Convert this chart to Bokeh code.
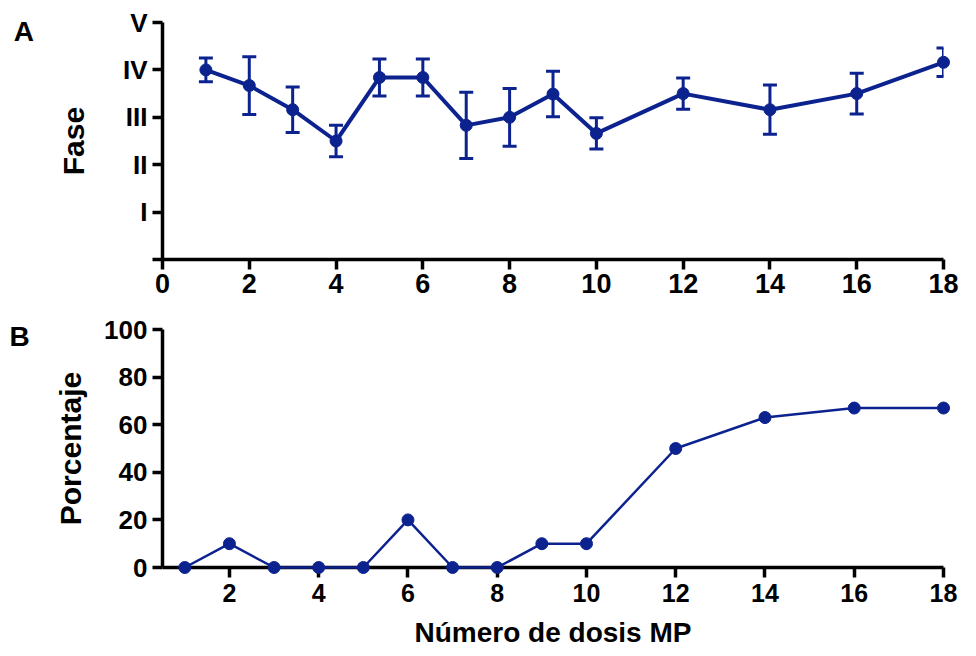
from bokeh.plotting import figure
from bokeh.models import ColumnDataSource, Whisker, TeeHead, FixedTicker, Range1d
from bokeh.core.properties import value
from bokeh.layouts import column
from bokeh.embed import file_html
from bokeh.resources import INLINE

# ---- data ----
dosis_a = [1, 2, 3, 4, 5, 6, 7, 8, 9, 10, 12, 14, 16, 18]
fase_media = [4.0, 3.67, 3.16, 2.5, 3.84, 3.84, 2.83, 3.0, 3.49, 2.66, 3.5, 3.16, 3.5, 4.16]
fase_error = [0.25, 0.61, 0.48, 0.33, 0.39, 0.39, 0.7, 0.61, 0.48, 0.33, 0.33, 0.52, 0.43, 0.3]
fase_ticks = [0, 1, 2, 3, 4, 5]
fase_tick_labels = ["", "I", "II", "III", "IV", "V"]
x_ticks_a = [0, 2, 4, 6, 8, 10, 12, 14, 16, 18]

dosis_b = [1, 2, 3, 4, 5, 6, 7, 8, 9, 10, 12, 14, 16, 18]
porcentaje = [0, 10, 0, 0, 0, 20, 0, 0, 10, 10, 50, 63, 67, 67]
y_ticks_b = [0, 20, 40, 60, 80, 100]
x_ticks_b = [2, 4, 6, 8, 10, 12, 14, 16, 18]

panel_letters = ["A", "B"]

BLUE = "#0c228f"
FONT = "Liberation Sans"


def style(p):
    p.outline_line_color = None
    p.grid.grid_line_color = None
    p.background_fill_color = "white"
    p.border_fill_color = "white"
    for ax in p.axis:
        ax.axis_line_width = 3.5
        ax.axis_line_color = "black"
        ax.major_tick_line_width = 3.5
        ax.major_tick_line_color = "black"
        ax.major_tick_out = 10
        ax.major_tick_in = 0
        ax.minor_tick_line_color = None
        ax.major_label_text_font = FONT
        ax.major_label_text_font_style = "bold"
        ax.major_label_text_color = "black"
        ax.axis_label_text_font = FONT
        ax.axis_label_text_font_style = "bold"
        ax.axis_label_text_color = "black"


# ---- Panel A ----
pA = figure(width=976, height=307, title=None,
            x_range=Range1d(0, 18), y_range=Range1d(0, 5),
            output_backend="svg", toolbar_location=None,
            min_border_left=162, min_border_right=33,
            min_border_top=22, min_border_bottom=48)
style(pA)
pA.xaxis.ticker = FixedTicker(ticks=x_ticks_a)
pA.xaxis.major_label_text_font_size = "27px"
pA.xaxis.major_label_standoff = 4
pA.yaxis.ticker = FixedTicker(ticks=fase_ticks)
pA.yaxis.major_label_overrides = {t: l for t, l in zip(fase_ticks, fase_tick_labels)}
pA.yaxis.major_label_text_font_size = "26px"
pA.yaxis.major_label_standoff = 5
pA.yaxis.axis_label = "Fase"
pA.yaxis.axis_label_text_font_size = "30px"
pA.yaxis.axis_label_standoff = 30

srcA = ColumnDataSource(dict(
    x=dosis_a, y=fase_media,
    upper=[m + e for m, e in zip(fase_media, fase_error)],
    lower=[m - e for m, e in zip(fase_media, fase_error)],
))
pA.add_layout(Whisker(source=srcA, base="x", upper="upper", lower="lower",
                      line_color=BLUE, line_width=3,
                      upper_head=TeeHead(size=14, line_color=BLUE, line_width=3),
                      lower_head=TeeHead(size=14, line_color=BLUE, line_width=3)))
pA.line("x", "y", source=srcA, line_color=BLUE, line_width=4, level="overlay")
pA.scatter("x", "y", source=srcA, size=12, marker="circle",
           fill_color=BLUE, line_color=BLUE, level="overlay")
pA.text(x=[-3.43], y=[5.13], text=[panel_letters[0]], text_font=value(FONT),
        text_font_style="bold", text_font_size="28px", text_color="black",
        text_baseline="top", text_align="left", level="overlay")

# ---- Panel B ----
pB = figure(width=976, height=349, title=None,
            x_range=Range1d(0.5, 18), y_range=Range1d(0, 100),
            output_backend="svg", toolbar_location=None,
            min_border_left=162, min_border_right=33,
            min_border_top=22, min_border_bottom=89)
style(pB)
pB.xaxis.ticker = FixedTicker(ticks=x_ticks_b)
pB.xaxis.major_label_text_font_size = "25px"
pB.xaxis.major_label_standoff = 6
pB.xaxis.axis_label = "Número de dosis MP"
pB.xaxis.axis_label_text_font_size = "28px"
pB.xaxis.axis_label_standoff = 12
pB.yaxis.ticker = FixedTicker(ticks=y_ticks_b)
pB.yaxis.major_label_text_font_size = "26px"
pB.yaxis.major_label_standoff = 5
pB.yaxis.axis_label = "Porcentaje"
pB.yaxis.axis_label_text_font_size = "30px"
pB.yaxis.axis_label_standoff = 14

srcB = ColumnDataSource(dict(x=dosis_b, y=porcentaje))
pB.line("x", "y", source=srcB, line_color=BLUE, line_width=2.5, level="overlay")
pB.scatter("x", "y", source=srcB, size=12, marker="circle",
           fill_color=BLUE, line_color=BLUE, level="overlay")
pB.text(x=[-2.93], y=[103.4], text=[panel_letters[1]], text_font=value(FONT),
        text_font_style="bold", text_font_size="28px", text_color="black",
        text_baseline="top", text_align="left", level="overlay")

layout = column(pA, pB)
open("out.html", "w").write(file_html(layout, INLINE))
